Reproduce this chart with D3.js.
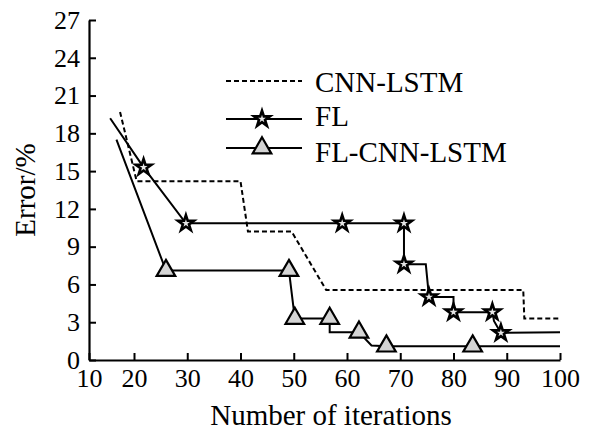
<!DOCTYPE html>
<html>
<head>
<meta charset="utf-8">
<script src="https://cdn.jsdelivr.net/npm/d3@7"></script>
<style>
  body { margin: 0; background: #fff; }
  svg { display: block; }
  svg text { font-family: "Liberation Serif", Tinos, "Times New Roman", Times, "DejaVu Serif", serif; }
</style>
</head>
<body>
<div class="container"></div>
<script>
const width = 590;
const height = 430;
const serif = "'Liberation Serif', Tinos, 'Times New Roman', Times, 'DejaVu Serif', serif";

// values
const xTicks = [10, 20, 30, 40, 50, 60, 70, 80, 90, 100];
const yTicks = [0, 3, 6, 9, 12, 15, 18, 21, 24, 27];

const cnnX = [16.9, 20.5, 40, 41.4, 49.6, 56.1, 93.1, 93.3, 100];
const cnnY = [19.7, 14.2, 14.2, 10.2, 10.2, 5.55, 5.55, 3.3, 3.3];

const flX = [14.7, 21.8, 29.75, 59.1, 70.7, 70.7, 74.8, 75.4, 80, 80, 87.3, 87.6, 88.9, 100];
const flY = [19.2, 15.3, 10.85, 10.85, 10.85, 7.6, 7.6, 5.0, 5.0, 3.8, 3.8, 3.1, 2.15, 2.2];
const flMarks = [1, 2, 3, 4, 5, 7, 9, 10, 12];

const fcX = [16.1, 26, 49.1, 50.2, 56.75, 56.75, 62.25, 64.6, 67.4, 83.6, 100];
const fcY = [17.5, 7.1, 7.1, 3.3, 3.3, 2.2, 2.2, 1.15, 1.1, 1.1, 1.1];
const fcMarks = [1, 2, 3, 4, 6, 8, 9];

const legendNames = ["CNN-LSTM", "FL", "FL-CNN-LSTM"];

const x = d3.scaleLinear()
    .domain([10, 20, 100])
    .range([89, 134, 560]);

const y = d3.scaleLinear()
    .domain([0, 27])
    .range([360, 20]);

const svg = d3.select(".container")
  .append("svg")
    .attr("width", width)
    .attr("height", height);

const line = d3.line()
    .x(d => x(d[0]))
    .y(d => y(d[1]));

const zip = (xs, ys) => xs.map((v, i) => [v, ys[i]]);

const star = d3.symbol().type(d3.symbolStar).size(78);
const tri = d3.symbol().type(d3.symbolTriangle).size(150);

// series
svg.append("path")
    .attr("d", line(zip(cnnX, cnnY)))
    .attr("fill", "none")
    .attr("stroke", "#000")
    .attr("stroke-width", 2)
    .attr("stroke-dasharray", "5,3");

svg.append("path")
    .attr("d", line(zip(flX, flY)))
    .attr("fill", "none")
    .attr("stroke", "#000")
    .attr("stroke-width", 2);

svg.append("path")
    .attr("d", line(zip(fcX, fcY)))
    .attr("fill", "none")
    .attr("stroke", "#000")
    .attr("stroke-width", 2);

svg.append("g")
  .selectAll("path")
  .data(flMarks)
  .join("path")
    .attr("transform", i => `translate(${x(flX[i])},${y(flY[i])})`)
    .attr("d", star)
    .attr("fill", "#e6e6e6")
    .attr("stroke", "#000")
    .attr("stroke-width", 2.6);

svg.append("g")
  .selectAll("path")
  .data(fcMarks)
  .join("path")
    .attr("transform", i => `translate(${x(fcX[i])},${y(fcY[i])})`)
    .attr("d", tri)
    .attr("fill", "#d4d4d4")
    .attr("stroke", "#000")
    .attr("stroke-width", 2.2);

// axes
const xAxis = svg.append("g")
    .attr("transform", `translate(0,${y(0)})`)
    .call(d3.axisBottom(x).tickValues(xTicks).tickFormat(d3.format("d"))
      .tickSizeInner(-7).tickSizeOuter(0).tickPadding(9));

const yAxis = svg.append("g")
    .attr("transform", `translate(${x(10)},0)`)
    .call(d3.axisLeft(y).tickValues(yTicks).tickFormat(d3.format("d"))
      .tickSizeInner(-7).tickSizeOuter(0).tickPadding(9));

[xAxis, yAxis].forEach(g => {
  g.attr("font-family", serif).attr("font-size", 26);
  g.select(".domain").attr("stroke", "#000").attr("stroke-width", 2.2);
  g.selectAll(".tick line").attr("stroke", "#000").attr("stroke-width", 2);
  g.selectAll(".tick text").attr("fill", "#000");
});

svg.append("text")
    .attr("x", 331)
    .attr("y", 425)
    .attr("text-anchor", "middle")
    .attr("font-family", serif)
    .attr("font-size", 29)
    .text("Number of iterations");

svg.append("text")
    .attr("transform", "translate(35,190) rotate(-90)")
    .attr("text-anchor", "middle")
    .attr("font-family", serif)
    .attr("font-size", 29)
    .text("Error/%");

// legend
const legend = svg.append("g")
  .selectAll("g")
  .data(legendNames)
  .join("g")
    .attr("transform", (d, i) => `translate(226,${[81, 119, 148][i]})`);

legend.append("line")
    .attr("x1", 0)
    .attr("x2", 76)
    .attr("stroke", "#000")
    .attr("stroke-width", 2)
    .attr("stroke-dasharray", (d, i) => i === 0 ? "5,3" : null);

legend.filter((d, i) => i === 1).append("path")
    .attr("transform", "translate(36,0)")
    .attr("d", star)
    .attr("fill", "#e6e6e6")
    .attr("stroke", "#000")
    .attr("stroke-width", 2.6);

legend.filter((d, i) => i === 2).append("path")
    .attr("transform", "translate(36,0)")
    .attr("d", tri)
    .attr("fill", "#d4d4d4")
    .attr("stroke", "#000")
    .attr("stroke-width", 2.2);

legend.append("text")
    .attr("x", 89)
    .attr("y", (d, i) => [10.5, 7, 13.5][i])
    .attr("font-family", serif)
    .attr("font-size", 29)
    .text(d => d);
</script>
</body>
</html>
